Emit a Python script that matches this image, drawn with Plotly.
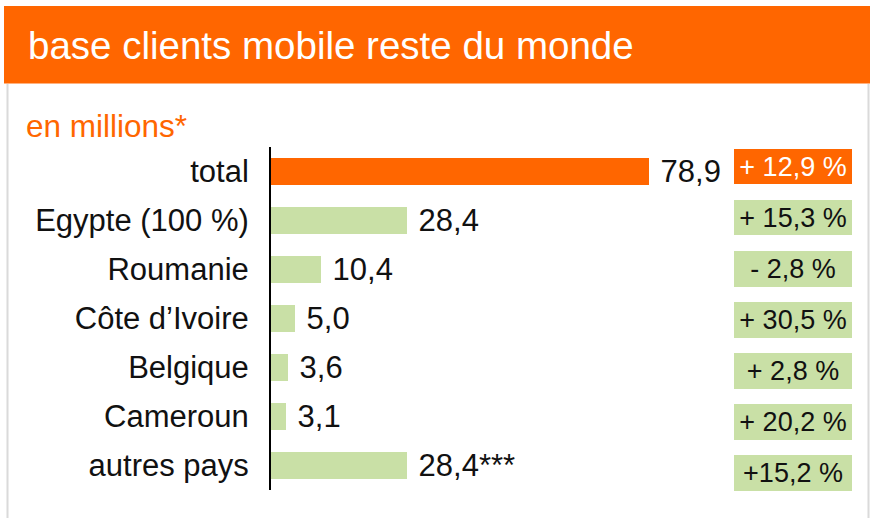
import plotly.graph_objects as go

categories = ["total", "Egypte (100 %)", "Roumanie", "Côte d’Ivoire", "Belgique", "Cameroun", "autres pays"]
values = [78.9, 28.4, 10.4, 5.0, 3.6, 3.1, 28.4]
value_labels = ["78,9", "28,4", "10,4", "5,0", "3,6", "3,1", "28,4***"]
growth_labels = ["+ 12,9 %", "+ 15,3 %", "- 2,8 %", "+ 30,5 %", "+ 2,8 %", "+ 20,2 %", "+15,2 %"]

ORANGE = "#FF6600"
GREEN = "#C9E0A6"
FONT = "Liberation Sans, Helvetica, Arial, sans-serif"
W, H = 870, 518

bar_colors = [ORANGE] + [GREEN] * (len(categories) - 1)
badge_text_colors = ["white"] + ["#111111"] * (len(categories) - 1)

fig = go.Figure()
fig.add_trace(go.Bar(
    y=categories, x=values, orientation="h",
    marker=dict(color=bar_colors, line=dict(width=0)),
    width=0.55,
    text=[" " + t for t in value_labels], textposition="outside",
    textfont=dict(family=FONT, size=31, color="#111111"),
    constraintext="none", cliponaxis=False,
    xaxis="x", yaxis="y", hoverinfo="skip",
))
fig.add_trace(go.Bar(
    y=categories, x=[1] * len(categories), orientation="h",
    marker=dict(color=bar_colors, line=dict(width=0)),
    width=0.7,
    text=growth_labels, textposition="inside", insidetextanchor="middle",
    textfont=dict(family=FONT, size=27, color=badge_text_colors),
    constraintext="none",
    xaxis="x2", yaxis="y2", hoverinfo="skip",
))

x0 = 271
scale = 378 / 78.9
x_end = 700
fig.update_layout(
    width=W, height=H,
    margin=dict(l=0, r=0, t=0, b=0),
    paper_bgcolor="white", plot_bgcolor="rgba(0,0,0,0)",
    showlegend=False,
    font=dict(family=FONT, color="#111111"),
    xaxis=dict(domain=[x0 / W, x_end / W], range=[0, (x_end - x0) / scale],
               visible=False, showgrid=False, zeroline=False, anchor="y"),
    yaxis=dict(domain=[1 - 490 / H, 1 - 147 / H], range=[6.5, -0.5],
               type="category", categoryorder="array", categoryarray=categories,
               showline=True, linecolor="black", linewidth=2, showgrid=False,
               ticks="", ticklabelstandoff=14,
               tickfont=dict(family=FONT, size=31, color="#111111"), anchor="x"),
    xaxis2=dict(domain=[734 / W, 852 / W], range=[0, 1], visible=False,
                showgrid=False, zeroline=False, anchor="y2"),
    yaxis2=dict(domain=[1 - 498.5 / H, 1 - 141 / H], range=[6.5, -0.5],
                type="category", categoryorder="array", categoryarray=categories,
                visible=False, showgrid=False, anchor="x2"),
    bargap=0,
)

# header band and frame
fig.add_shape(type="rect", xref="paper", yref="paper",
              x0=4 / W, x1=1, y0=1 - 83 / H, y1=1 - 6 / H,
              fillcolor=ORANGE, line=dict(width=0), layer="below")
fig.add_shape(type="line", xref="paper", yref="paper",
              x0=4 / W, x1=1, y0=1 - 83.5 / H, y1=1 - 83.5 / H,
              line=dict(color="#FFB27F", width=1))
fig.add_shape(type="line", xref="paper", yref="paper",
              x0=7.5 / W, x1=7.5 / W, y0=0, y1=1 - 84 / H,
              line=dict(color="#DADADA", width=2))
fig.add_shape(type="line", xref="paper", yref="paper",
              x0=868.5 / W, x1=868.5 / W, y0=0, y1=1 - 84 / H,
              line=dict(color="#DADADA", width=2))

fig.add_annotation(text="base clients mobile reste du monde", xref="paper", yref="paper",
                   x=26 / W, y=1 - 45 / H, xanchor="left", yanchor="middle",
                   showarrow=False, font=dict(family=FONT, size=38.5, color="white"))
fig.add_annotation(text="en millions*", xref="paper", yref="paper",
                   x=24 / W, y=1 - 126 / H, xanchor="left", yanchor="middle",
                   showarrow=False, font=dict(family=FONT, size=31.5, color=ORANGE))

fig.write_html("out.html", config={"displayModeBar": False},
               post_script="document.body.style.margin='0';")
